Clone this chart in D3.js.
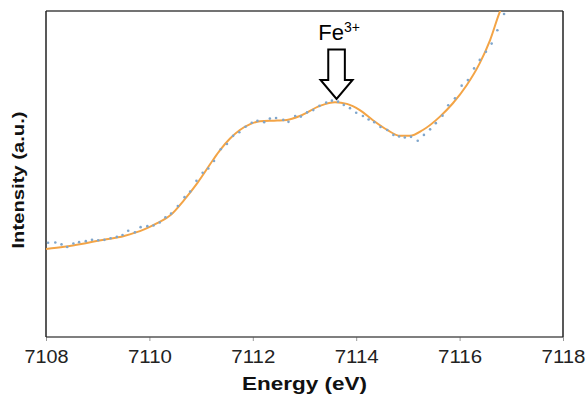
<!DOCTYPE html>
<html>
<head>
<meta charset="utf-8">
<script src="https://cdn.jsdelivr.net/npm/d3@7"></script>
<style>
  body { margin: 0; background: #fff; }
  svg { display: block; }
</style>
</head>
<body>
<div id="chart"></div>
<script>
// measured points (blue dots)
const dotEnergy = [7108.04, 7108.18, 7108.30, 7108.41, 7108.53, 7108.64, 7108.77, 7108.89, 7109.01, 7109.13,
  7109.25, 7109.37, 7109.48, 7109.59, 7109.72, 7109.83, 7109.96, 7110.08, 7110.20, 7110.31,
  7110.42, 7110.55, 7110.68, 7110.79, 7110.91, 7111.03, 7111.14, 7111.25, 7111.38, 7111.50,
  7111.62, 7111.74, 7111.86, 7111.98, 7112.09, 7112.22, 7112.33, 7112.45, 7112.59, 7112.69,
  7112.82, 7112.93, 7113.05, 7113.17, 7113.29, 7113.42, 7113.53, 7113.65, 7113.76, 7113.88,
  7114.00, 7114.13, 7114.24, 7114.35, 7114.47, 7114.60, 7114.72, 7114.83, 7114.94, 7115.06,
  7115.19, 7115.31, 7115.43, 7115.54, 7115.67, 7115.78, 7115.91, 7116.04, 7116.16, 7116.28,
  7116.39, 7116.51, 7116.62, 7116.73, 7116.86];
const dotIntensity = [0.289, 0.290, 0.284, 0.276, 0.287, 0.291, 0.294, 0.298, 0.297, 0.298,
  0.303, 0.307, 0.313, 0.326, 0.321, 0.337, 0.340, 0.342, 0.351, 0.367,
  0.379, 0.402, 0.429, 0.446, 0.479, 0.504, 0.517, 0.540, 0.576, 0.592,
  0.617, 0.628, 0.645, 0.657, 0.663, 0.659, 0.670, 0.672, 0.666, 0.660,
  0.678, 0.676, 0.689, 0.696, 0.709, 0.719, 0.725, 0.722, 0.712, 0.702,
  0.688, 0.678, 0.667, 0.659, 0.644, 0.635, 0.620, 0.615, 0.612, 0.614,
  0.602, 0.620, 0.637, 0.656, 0.679, 0.711, 0.732, 0.771, 0.788, 0.824,
  0.850, 0.875, 0.900, 0.941, 0.991];

// fitted curve (orange)
const fitEnergy = [7108.00, 7108.35, 7108.74, 7109.12, 7109.51, 7109.90, 7110.15, 7110.41, 7110.67, 7110.93,
  7111.23, 7111.37, 7111.56, 7111.75, 7111.95, 7112.14, 7112.47, 7112.66, 7112.91, 7113.30,
  7113.59, 7113.82, 7114.07, 7114.33, 7114.60, 7114.85, 7115.04, 7115.29, 7115.62, 7115.87,
  7116.14, 7116.39, 7116.59, 7116.78, 7116.84];
const fitIntensity = [0.270, 0.277, 0.287, 0.298, 0.310, 0.330, 0.349, 0.374, 0.420, 0.473,
  0.543, 0.574, 0.609, 0.635, 0.653, 0.662, 0.664, 0.666, 0.678, 0.709,
  0.720, 0.715, 0.696, 0.664, 0.635, 0.617, 0.617, 0.635, 0.676, 0.717,
  0.773, 0.840, 0.911, 0.998, 1.02];

const xTicks = [7108, 7110, 7112, 7114, 7116, 7118];
const peakEnergy = 7113.62;   // Fe3+ pre-edge peak

const W = 586, H = 394;
const margin = { top: 11, right: 23, bottom: 57, left: 46 };
const width = W - margin.left - margin.right;
const height = H - margin.top - margin.bottom;

const svg = d3.select("#chart").append("svg")
  .attr("width", W)
  .attr("height", H);

const g = svg.append("g")
  .attr("transform", "translate(" + margin.left + "," + margin.top + ")");

const xScale = d3.scaleLinear().domain([7108, 7118]).range([0, width]);
const yScale = d3.scaleLinear().domain([0, 1]).range([height, 0]);

g.append("clipPath").attr("id", "plotClip")
  .append("rect").attr("width", width).attr("height", height);

// x axis with small ticks
const xAxis = g.append("g")
  .attr("transform", "translate(0," + height + ")")
  .call(d3.axisBottom(xScale)
    .tickValues(xTicks)
    .tickFormat(d3.format("d"))
    .tickSize(4)
    .tickSizeOuter(0)
    .tickPadding(9));
xAxis.select(".domain").remove();
xAxis.selectAll(".tick line").attr("stroke", "#999").attr("stroke-width", 1);
xAxis.selectAll(".tick text")
  .attr("font-family", "'Liberation Sans', Arial, sans-serif")
  .attr("font-size", 18)
  .attr("fill", "#222")
  .attr("textLength", 44)
  .attr("lengthAdjust", "spacingAndGlyphs");

// frame
g.append("line").attr("x1", 0).attr("x2", width).attr("y1", 0).attr("y2", 0)
  .attr("stroke", "#444").attr("stroke-width", 1.5);
g.append("line").attr("x1", 0).attr("x2", width).attr("y1", height).attr("y2", height)
  .attr("stroke", "#555").attr("stroke-width", 1.5);
g.append("line").attr("x1", 0).attr("x2", 0).attr("y1", 0).attr("y2", height)
  .attr("stroke", "#222").attr("stroke-width", 1.5);
g.append("line").attr("x1", width).attr("x2", width).attr("y1", 0).attr("y2", height)
  .attr("stroke", "#222").attr("stroke-width", 1.5);

// fitted line
const fitData = fitEnergy.map((e, i) => ({ e: e, v: fitIntensity[i] }));
const valueLine = d3.line()
  .x(d => xScale(d.e))
  .y(d => yScale(d.v))
  .curve(d3.curveMonotoneX);

const plot = g.append("g").attr("clip-path", "url(#plotClip)");

plot.append("path")
  .attr("d", valueLine(fitData))
  .attr("fill", "none")
  .attr("stroke", "#f3a446")
  .attr("stroke-width", 2);

// measured dots
const dotData = dotEnergy.map((e, i) => ({ e: e, v: dotIntensity[i] }));
plot.selectAll(".dot")
  .data(dotData)
  .enter()
  .append("circle")
    .attr("class", "dot")
    .attr("cx", d => xScale(d.e))
    .attr("cy", d => yScale(d.v))
    .attr("r", 1.3)
    .attr("fill", "#7fa6cc");

// Fe3+ arrow
const ax = xScale(peakEnergy);
const tipY = 88, headY = 69, topY = 38.5;
const shaftHalf = 8.3, headHalf = 16;
const arrowPts = [
  [ax - shaftHalf, topY], [ax + shaftHalf, topY], [ax + shaftHalf, headY],
  [ax + headHalf, headY], [ax, tipY], [ax - headHalf, headY], [ax - shaftHalf, headY]
];
g.append("path")
  .attr("d", d3.line()(arrowPts) + "Z")
  .attr("fill", "#fff")
  .attr("stroke", "#000")
  .attr("stroke-width", 2)
  .attr("stroke-linejoin", "miter");

const label = g.append("text")
  .attr("x", ax + 2.5)
  .attr("y", 29)
  .attr("text-anchor", "middle")
  .attr("font-family", "'Liberation Sans', Arial, sans-serif")
  .attr("fill", "#000");
label.append("tspan").attr("font-size", 22).text("Fe");
label.append("tspan").attr("font-size", 14).attr("dy", -8).text("3+");

// axis titles
svg.append("text")
  .attr("x", margin.left + width / 2)
  .attr("y", 390)
  .attr("text-anchor", "middle")
  .attr("font-family", "'Liberation Sans', Arial, sans-serif")
  .attr("font-weight", "bold")
  .attr("font-size", 18)
  .attr("fill", "#111")
  .attr("textLength", 125)
  .attr("lengthAdjust", "spacingAndGlyphs")
  .text("Energy (eV)");

svg.append("text")
  .attr("transform", "translate(24,180)rotate(-90)")
  .attr("text-anchor", "middle")
  .attr("font-family", "'Liberation Sans', Arial, sans-serif")
  .attr("font-weight", "bold")
  .attr("font-size", 16.5)
  .attr("fill", "#111")
  .attr("textLength", 137)
  .attr("lengthAdjust", "spacingAndGlyphs")
  .text("Intensity (a.u.)");
</script>
</body>
</html>
